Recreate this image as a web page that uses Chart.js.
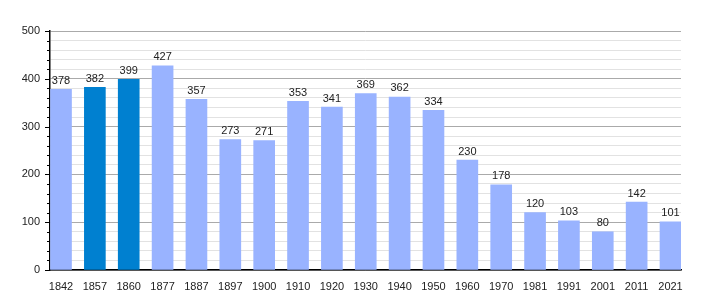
<!DOCTYPE html>
<html>
<head>
<meta charset="utf-8">
<script src="https://cdn.jsdelivr.net/npm/chart.js@4"></script>
<style>
  html, body { margin: 0; padding: 0; background: #fff; }
  #wrap { width: 710px; height: 300px; }
</style>
</head>
<body>
<div id="wrap"><canvas id="popChart"></canvas></div>
<script>
const years = ["1842", "1857", "1860", "1877", "1887", "1897", "1900", "1910", "1920", "1930",
  "1940", "1950", "1960", "1970", "1981", "1991", "2001", "2011", "2021"];
const population = [378, 382, 399, 427, 357, 273, 271, 353, 341, 369, 362, 334, 230, 178, 120, 103, 80, 142, 101];
const highlighted = ["1857", "1860"];
const yTicks = [0, 100, 200, 300, 400, 500];

const lightBlue = "rgb(153,179,255)";
const darkBlue = "rgb(0,128,208)";
const font = { family: "'Liberation Sans', Arial, sans-serif", size: 11 };

// value labels above bars
const valueLabels = {
  id: "valueLabels",
  afterDatasetsDraw(chart) {
    const ctx = chart.ctx;
    const meta = chart.getDatasetMeta(0);
    ctx.save();
    ctx.font = "11px 'Liberation Sans', Arial, sans-serif";
    ctx.fillStyle = "#222";
    ctx.textAlign = "center";
    ctx.textBaseline = "bottom";
    meta.data.forEach((bar, i) => {
      ctx.fillText(population[i], bar.x, bar.y - 3);
    });
    ctx.restore();
  }
};

// y tick marks: long at labelled values, short for minor steps
const yTickMarks = {
  id: "yTickMarks",
  afterDraw(chart) {
    const ctx = chart.ctx;
    const y = chart.scales.y;
    ctx.save();
    ctx.strokeStyle = "#000";
    ctx.lineWidth = 1;
    y.ticks.forEach((t) => {
      const py = Math.round(y.getPixelForValue(t.value)) + 0.5;
      const len = yTicks.includes(t.value) ? 5 : 3;
      ctx.beginPath();
      ctx.moveTo(y.right - len, py);
      ctx.lineTo(y.right, py);
      ctx.stroke();
    });
    ctx.restore();
  }
};

const ctx = document.getElementById("popChart");
new Chart(ctx, {
  type: "bar",
  data: {
    datasets: [{
      data: years.map((y, i) => ({ x: i, y: population[i] })),
      backgroundColor: years.map((y) => highlighted.includes(y) ? darkBlue : lightBlue),
      barThickness: 21,
      borderWidth: 0,
    }]
  },
  plugins: [valueLabels, yTickMarks],
  options: {
    responsive: true,
    maintainAspectRatio: false,
    animation: false,
    layout: { padding: { top: 31, right: 29, left: 0, bottom: 0 } },
    plugins: {
      legend: { display: false },
      tooltip: { enabled: false },
    },
    scales: {
      x: {
        type: "linear",
        offset: false,
        min: -0.325,
        max: 18.31,
        afterBuildTicks: (axis) => { axis.ticks = years.map((_, i) => ({ value: i })); },
        afterFit: (scale) => { scale.height = 30; },
        ticks: {
          autoSkip: false,
          maxRotation: 0,
          padding: 2,
          color: "#222",
          font: font,
          callback: (value) => years[value],
        },
        grid: { display: false, offset: false },
        border: { display: true, color: "#000", width: 1.5 },
      },
      y: {
        min: 0,
        max: 500,
        afterFit: (scale) => { scale.width = 50; },
        ticks: {
          stepSize: 20,
          autoSkip: false,
          padding: 10,
          color: "#222",
          font: font,
          callback: (value) => yTicks.includes(value) ? value : "",
        },
        grid: {
          color: (c) => c.tick && c.tick.value % 100 === 0 ? "#aaaaaa" : "#e2e2e2",
          drawTicks: false,
        },
        border: { display: true, color: "#000", width: 1.5 },
      }
    }
  }
});
</script>
</body>
</html>
